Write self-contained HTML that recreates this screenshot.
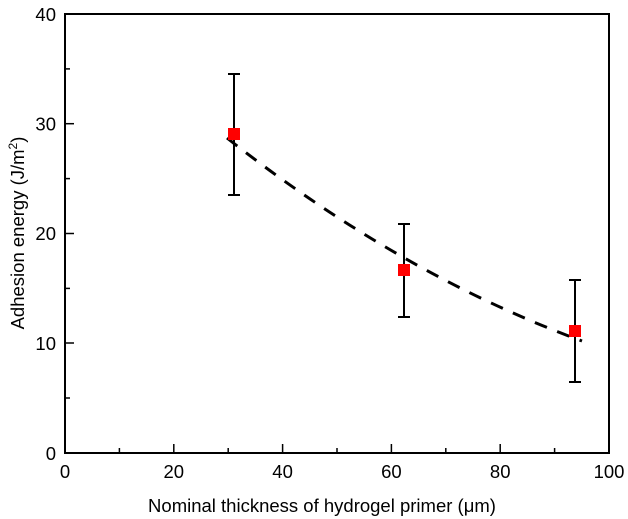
<!DOCTYPE html>
<html><head><style>body{margin:0;background:#fff}svg{display:block}text{font-family:"Liberation Sans",Arial,sans-serif;fill:#000}</style></head>
<body>
<svg width="628" height="519" viewBox="0 0 628 519">
<rect x="65" y="14" width="544" height="439" fill="none" stroke="#000" stroke-width="2"/>
<g stroke="#000" stroke-width="1.5">
<line x1="65" y1="453" x2="65" y2="444"/><line x1="119.4" y1="453" x2="119.4" y2="448"/>
<line x1="173.8" y1="453" x2="173.8" y2="444"/><line x1="228.2" y1="453" x2="228.2" y2="448"/>
<line x1="282.6" y1="453" x2="282.6" y2="444"/><line x1="337" y1="453" x2="337" y2="448"/>
<line x1="391.4" y1="453" x2="391.4" y2="444"/><line x1="445.8" y1="453" x2="445.8" y2="448"/>
<line x1="500.2" y1="453" x2="500.2" y2="444"/><line x1="554.6" y1="453" x2="554.6" y2="448"/>
<line x1="65" y1="398" x2="70" y2="398"/><line x1="65" y1="343" x2="74" y2="343"/>
<line x1="65" y1="288.4" x2="70" y2="288.4"/><line x1="65" y1="233.5" x2="74" y2="233.5"/>
<line x1="65" y1="178.6" x2="70" y2="178.6"/><line x1="65" y1="123.7" x2="74" y2="123.7"/>
<line x1="65" y1="68.9" x2="70" y2="68.9"/>
</g>
<g font-size="18.5" text-anchor="middle">
<text x="65" y="478">0</text><text x="173.8" y="478">20</text><text x="282.6" y="478">40</text>
<text x="391.4" y="478">60</text><text x="500.2" y="478">80</text><text x="609" y="478">100</text>
</g>
<g font-size="18.5" text-anchor="end">
<text x="56" y="460">0</text><text x="56" y="350">10</text><text x="56" y="240">20</text>
<text x="56" y="130.5">30</text><text x="56" y="21">40</text>
</g>
<text x="322" y="512" font-size="18.5" text-anchor="middle">Nominal thickness of hydrogel primer (μm)</text>
<text transform="translate(24,233) rotate(-90)" font-size="18.5" text-anchor="middle">Adhesion energy (J/m<tspan dy="-7" font-size="12">2</tspan><tspan dy="7">)</tspan></text>
<path d="M227,138 Q400,274 582,341" fill="none" stroke="#000" stroke-width="3" stroke-dasharray="13,11"/>
<g stroke="#000" stroke-width="2">
<line x1="234" y1="74" x2="234" y2="195"/><line x1="228" y1="74" x2="240" y2="74"/><line x1="228" y1="195" x2="240" y2="195"/>
<line x1="404" y1="224" x2="404" y2="317"/><line x1="398" y1="224" x2="410" y2="224"/><line x1="398" y1="317" x2="410" y2="317"/>
<line x1="575" y1="280" x2="575" y2="382"/><line x1="569" y1="280" x2="581" y2="280"/><line x1="569" y1="382" x2="581" y2="382"/>
</g>
<rect x="228" y="128" width="12" height="12" fill="#f00"/>
<rect x="398" y="264" width="12" height="12" fill="#f00"/>
<rect x="569" y="325" width="12" height="12" fill="#f00"/>
</svg>
</body></html>
